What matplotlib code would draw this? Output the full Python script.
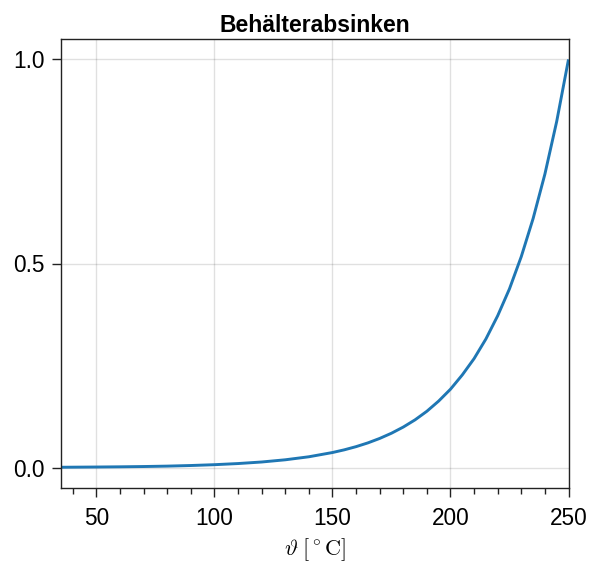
import numpy as np
import matplotlib
matplotlib.use("Agg")
import matplotlib.pyplot as plt
from matplotlib.ticker import MultipleLocator

# data
temperature = [35, 40, 50, 60, 70, 80, 90, 100, 110, 120, 130, 140, 150, 155,
               160, 165, 170, 175, 180, 185, 190, 195, 200, 205, 210, 215,
               220, 225, 230, 235, 240, 245, 250]
sinking = [0.0008, 0.0010, 0.0014, 0.0019, 0.0026, 0.0036, 0.0051, 0.0071,
           0.0099, 0.0137, 0.0191, 0.0265, 0.0369, 0.0435, 0.0513, 0.0605,
           0.0714, 0.0842, 0.0993, 0.117, 0.138, 0.163, 0.192, 0.227, 0.267,
           0.315, 0.372, 0.438, 0.517, 0.610, 0.719, 0.848, 1.0]
x_ticks = [50, 100, 150, 200, 250]
y_ticks = [0.0, 0.5, 1.0]
title = "Behälterabsinken"
xlabel = r"$\vartheta\;[^\circ\mathrm{C}]$"

plt.rcParams['font.family'] = ['Liberation Sans', 'DejaVu Sans']
plt.rcParams['mathtext.fontset'] = 'cm'

fig = plt.figure(figsize=(5.93, 5.66), dpi=100)
ax = fig.add_axes([61/593, 1 - 488/566, (568.5 - 61)/593, (488 - 39)/566])

ax.plot(temperature, sinking, color='#1f77b4', lw=2.1, solid_capstyle='butt')

ax.set_xlim(35, 250)
ax.set_ylim(-0.05, 1.05)
ax.set_xticks(x_ticks)
ax.set_yticks(y_ticks)
ax.set_yticklabels([f"{v:.1f}" for v in y_ticks])
ax.xaxis.set_minor_locator(MultipleLocator(10))
ax.grid(True, which='major', color='#000000', alpha=0.12, lw=1)
ax.tick_params(axis='both', which='major', direction='out', length=6.5, width=1,
               labelsize=16.3, color='#222222', pad=5)
ax.tick_params(axis='x', which='major', pad=7)
ax.tick_params(axis='x', which='minor', direction='out', length=4.3, width=1,
               color='#222222')
for s in ax.spines.values():
    s.set_color('#222222')
    s.set_linewidth(1.0)

ax.set_title(title, fontsize=16.5, fontweight='bold', pad=5)
ax.set_xlabel(xlabel, fontsize=16, labelpad=5)

fig.savefig("out.png", dpi=100)
